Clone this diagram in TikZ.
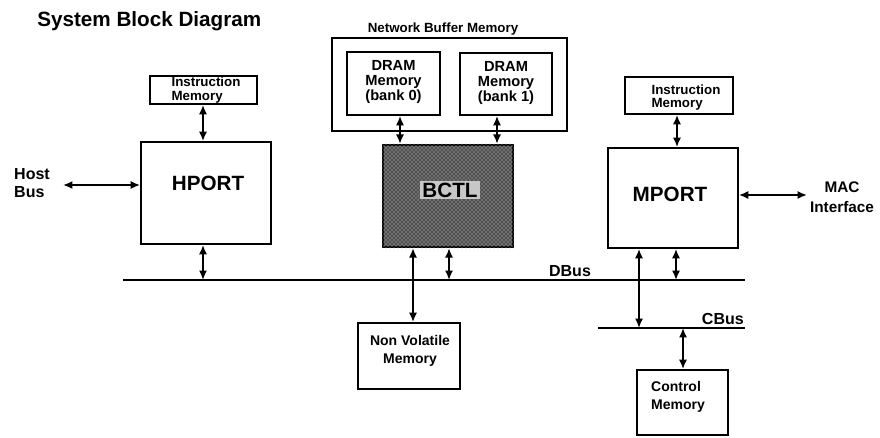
\documentclass[tikz,border=0pt]{standalone}
\usepackage{fontspec}
\setmainfont{Liberation Sans}
\usetikzlibrary{arrows.meta,patterns}
\begin{document}
\begin{tikzpicture}[x=0.75pt,y=-0.75pt,
  box/.style={draw,line width=1.4pt,inner sep=0pt},
  conn/.style={line width=1.3pt,{Latex[length=7pt,width=6pt]}-{Latex[length=7pt,width=6pt]}},
  bus/.style={line width=1.6pt},
  small/.style={font=\fontsize{10}{10.5}\selectfont\bfseries,align=left,inner sep=0pt},
  mid/.style={font=\fontsize{10.5}{13}\selectfont\bfseries,align=left,inner sep=0pt},
  dram/.style={font=\fontsize{11}{11.5}\selectfont\bfseries,align=center,inner sep=0pt},
  big/.style={font=\fontsize{15.5}{17}\selectfont\bfseries,inner sep=0pt},
  side/.style={font=\fontsize{12}{14}\selectfont\bfseries,inner sep=0pt},
]
\useasboundingbox (0,0) rectangle (880,438);

% title
\node[font=\fontsize{15.5}{18}\selectfont\bfseries,anchor=west,inner sep=0pt] (title) at (37,21) {System Block Diagram};

% left instruction memory and HPORT
\node[box,minimum width=80.25pt,minimum height=21pt] (imL) at (203.5,90) {};
\node[small] (imLt) at (206,90) {Instruction\\[-0.5pt]Memory};
\node[box,minimum width=97.5pt,minimum height=76.5pt] (hport) at (206,193) {};
\node[big] (hportt) at (208,183) {HPORT};

% host bus
\node[side,align=left] (hostbus) at (32,183) {Host\\Bus};
\coordinate (hostend) at (63,185);
\draw[conn] (hostend) -- (hostend -| hport.west);

% DBus
\coordinate (dbusL) at (123,280);
\coordinate (dbusR) at (745,280);
\draw[bus] (dbusL) -- (dbusR);
\node[side,anchor=south] (dbust) at (570,277) {DBus};

% network buffer memory
\node[box,minimum width=176.25pt,minimum height=69.75pt] (nbm) at (449.5,84.5) {};
\node[font=\fontsize{10}{12}\selectfont\bfseries,inner sep=0pt,anchor=south] (nbmt) at (443,36) {Network Buffer Memory};
\node[box,minimum width=69.75pt,minimum height=47.25pt] (dram0) at (393.5,83.5) {};
\node[dram] (dram0t) at (393.5,82) {DRAM\\Memory\\(bank 0)};
\node[box,minimum width=69pt,minimum height=46.5pt] (dram1) at (506,84) {};
\node[dram] (dram1t) at (506,83) {DRAM\\Memory\\(bank 1)};

% MBCTL
\node[box,line width=1.8pt,fill=black!68,minimum width=97.5pt,minimum height=76.5pt] (mbctl) at (448,196) {};
\fill[pattern=crosshatch dots,pattern color=white!80!black] (mbctl.south west) rectangle (mbctl.north east);
\node[big,fill=black!22,inner sep=1.5pt] (mbctlt) at (450,190) {BCTL};

\draw[conn] (dram0.south -| 400,0) -- (mbctl.north -| 400,0);
\draw[conn] (dram1.south -| 497,0) -- (mbctl.north -| 497,0);

% non volatile memory
\node[box,minimum width=76.5pt,minimum height=49.5pt] (nvm) at (409,356) {};
\node[mid,align=center] (nvmt) at (410,351) {Non Volatile\\Memory};
\draw[conn] (mbctl.south -| 413,0) -- (nvm.north -| 413,0);
\draw[conn] (mbctl.south -| 449,0) -- (dbusL -| 449,0);

\draw[conn] (hport.south -| 203,0) -- (dbusL -| 203,0);
\draw[conn] (imL.south -| 203,0) -- (hport.north -| 203,0);

% right instruction memory and MPORT
\node[box,minimum width=81pt,minimum height=27.75pt] (imR) at (679,95.5) {};
\node[small] (imRt) at (686,97.5) {Instruction\\[-0.5pt]Memory};
\node[box,minimum width=97.5pt,minimum height=75pt] (mport) at (673,198) {};
\node[big] (mportt) at (670,194) {MPORT};
\draw[conn] (imR.south -| 677,0) -- (mport.north -| 677,0);

% MAC interface
\coordinate (macend) at (807,195);
\draw[conn] (mport.east |- macend) -- (macend);
\node[align=center,font=\fontsize{11.5}{15}\selectfont\bfseries,inner sep=0pt] (mact) at (842,197) {MAC\\Interface};

% CBus
\coordinate (cbusL) at (598,328);
\coordinate (cbusR) at (745,328);
\draw[bus] (cbusL) -- (cbusR);
\node[side,anchor=south east] (cbust) at (744,325) {CBus};
\draw[conn] (mport.south -| 639,0) -- (cbusL -| 639,0);
\draw[conn] (mport.south -| 676,0) -- (dbusL -| 676,0);

% control memory
\node[box,minimum width=68.25pt,minimum height=48.75pt] (cm) at (682.5,402.5) {};
\node[mid] (cmt) at (678,397) {Control\\Memory};
\draw[conn] (cbusL -| 683,0) -- (cm.north -| 683,0);
\end{tikzpicture}
\end{document}
